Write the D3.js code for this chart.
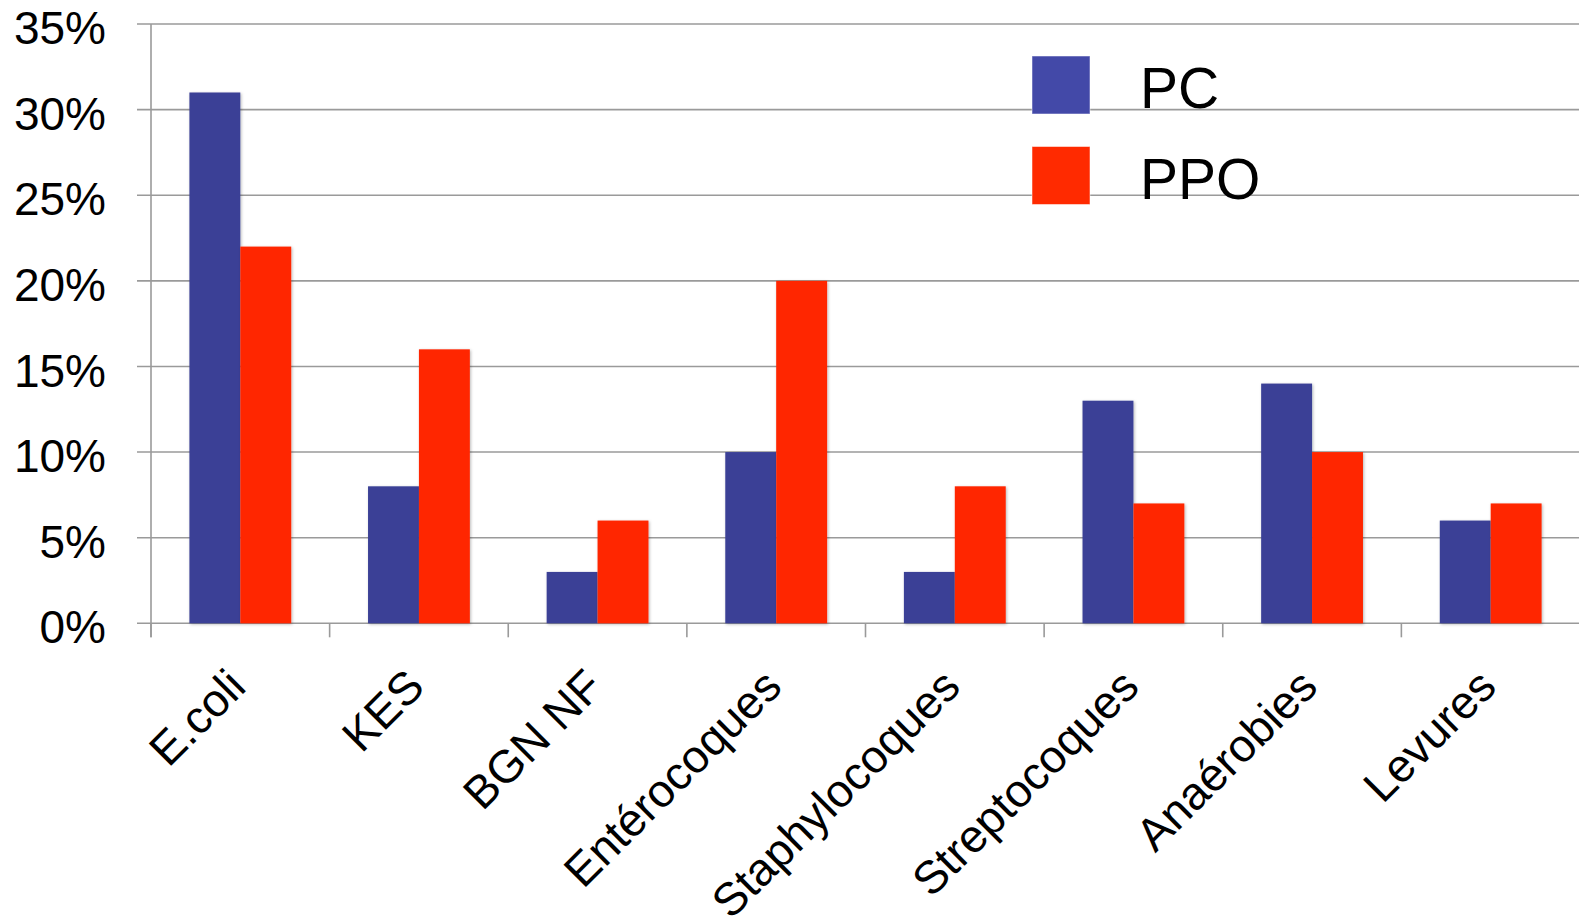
<!DOCTYPE html>
<html>
<head>
<meta charset="utf-8">
<script src="https://cdn.jsdelivr.net/npm/d3@7"></script>
<style>
  html, body { margin: 0; padding: 0; background: #fff; }
  svg { display: block; font-family: "Liberation Sans", Arial, Helvetica, sans-serif; }
</style>
</head>
<body>
<svg id="chart" width="1579" height="920"></svg>
<script>
// Germ categories and the share of isolates for each group (%)
const categories = ["E.coli", "KES", "BGN NF", "Entérocoques", "Staphylocoques", "Streptocoques", "Anaérobies", "Levures"];
const seriesNames = ["PC", "PPO"];
const pcValues  = [31, 8, 3, 10, 3, 13, 14, 6];
const ppoValues = [22, 16, 6, 20, 8, 7, 10, 7];
const yTicks = [0, 5, 10, 15, 20, 25, 30, 35];

const barColors    = { PC: "#3b4096", PPO: "#ff2600" };
const legendColors = { PC: "#4349a8", PPO: "#ff2a00" };

const svg = d3.select("#chart");

const plot = { left: 151, right: 1580, top: 24, bottom: 623.3 };

const x = d3.scaleBand()
  .domain(categories)
  .range([plot.left, plot.right])
  .paddingInner(0.43)
  .paddingOuter(0.215);

const xSub = d3.scaleBand()
  .domain(seriesNames)
  .range([0, x.bandwidth()]);

const y = d3.scaleLinear()
  .domain([0, 35])
  .range([plot.bottom, plot.top]);

const defs = svg.append("defs");
const shadow = defs.append("filter")
  .attr("id", "barShadow")
  .attr("x", "-20%").attr("y", "-20%")
  .attr("width", "140%").attr("height", "140%");
shadow.append("feDropShadow")
  .attr("dx", 1).attr("dy", 1)
  .attr("stdDeviation", 1.6)
  .attr("flood-color", "#000")
  .attr("flood-opacity", 0.28);

// Horizontal gridlines with short tick stubs to the left of the axis
svg.append("g")
  .selectAll("line")
  .data(yTicks)
  .join("line")
  .attr("x1", plot.left - 14)
  .attr("x2", 1579)
  .attr("y1", d => y(d))
  .attr("y2", d => y(d))
  .attr("stroke", "#9a9a9a")
  .attr("stroke-width", 1.6);

// Vertical axis line
svg.append("line")
  .attr("x1", plot.left).attr("x2", plot.left)
  .attr("y1", y(35)).attr("y2", plot.bottom + 14)
  .attr("stroke", "#9a9a9a")
  .attr("stroke-width", 1.6);

// Category boundary ticks below the baseline
const step = x.step();
const boundaries = d3.range(categories.length).map(i => plot.left + i * step);
svg.append("g")
  .selectAll("line")
  .data(boundaries)
  .join("line")
  .attr("x1", d => d).attr("x2", d => d)
  .attr("y1", plot.bottom).attr("y2", plot.bottom + 14)
  .attr("stroke", "#9a9a9a")
  .attr("stroke-width", 1.6);

// Y tick labels
svg.append("g")
  .selectAll("text")
  .data(yTicks)
  .join("text")
  .attr("x", 106)
  .attr("y", d => y(d) + 8)
  .attr("text-anchor", "end")
  .attr("dominant-baseline", "middle")
  .attr("font-size", 46)
  .attr("fill", "#000")
  .text(d => d + "%");

// Bars
const rows = categories.map((c, i) => ({ cat: c, PC: pcValues[i], PPO: ppoValues[i] }));
const groups = svg.append("g")
  .selectAll("g")
  .data(rows)
  .join("g")
  .attr("transform", d => `translate(${x(d.cat)},0)`);

groups.selectAll("rect")
  .data(d => seriesNames.map(s => ({ s, v: d[s] })))
  .join("rect")
  .attr("x", d => xSub(d.s))
  .attr("width", xSub.bandwidth())
  .attr("y", d => y(d.v))
  .attr("height", d => y(0) - y(d.v))
  .attr("fill", d => barColors[d.s])
  .attr("filter", "url(#barShadow)");

// Rotated category labels
svg.append("g")
  .selectAll("text")
  .data(categories)
  .join("text")
  .attr("transform", d => `translate(${x(d) + x.bandwidth() / 2 - 16},${plot.bottom + 42}) rotate(-45)`)
  .attr("text-anchor", "end")
  .attr("dominant-baseline", "hanging")
  .attr("font-size", 46)
  .attr("fill", "#000")
  .text(d => d);

// Legend
const legend = svg.append("g")
  .selectAll("g")
  .data(seriesNames)
  .join("g")
  .attr("transform", (d, i) => `translate(1032,${56 + i * 90.5})`);

legend.append("rect")
  .attr("width", 58)
  .attr("height", 58)
  .attr("fill", d => legendColors[d])
  .attr("stroke", "#ffffff")
  .attr("stroke-opacity", 0.5)
  .attr("stroke-width", 1);

legend.append("text")
  .attr("x", 108)
  .attr("y", 52)
  .attr("font-size", 57)
  .attr("fill", "#000")
  .text(d => d);
</script>
</body>
</html>
